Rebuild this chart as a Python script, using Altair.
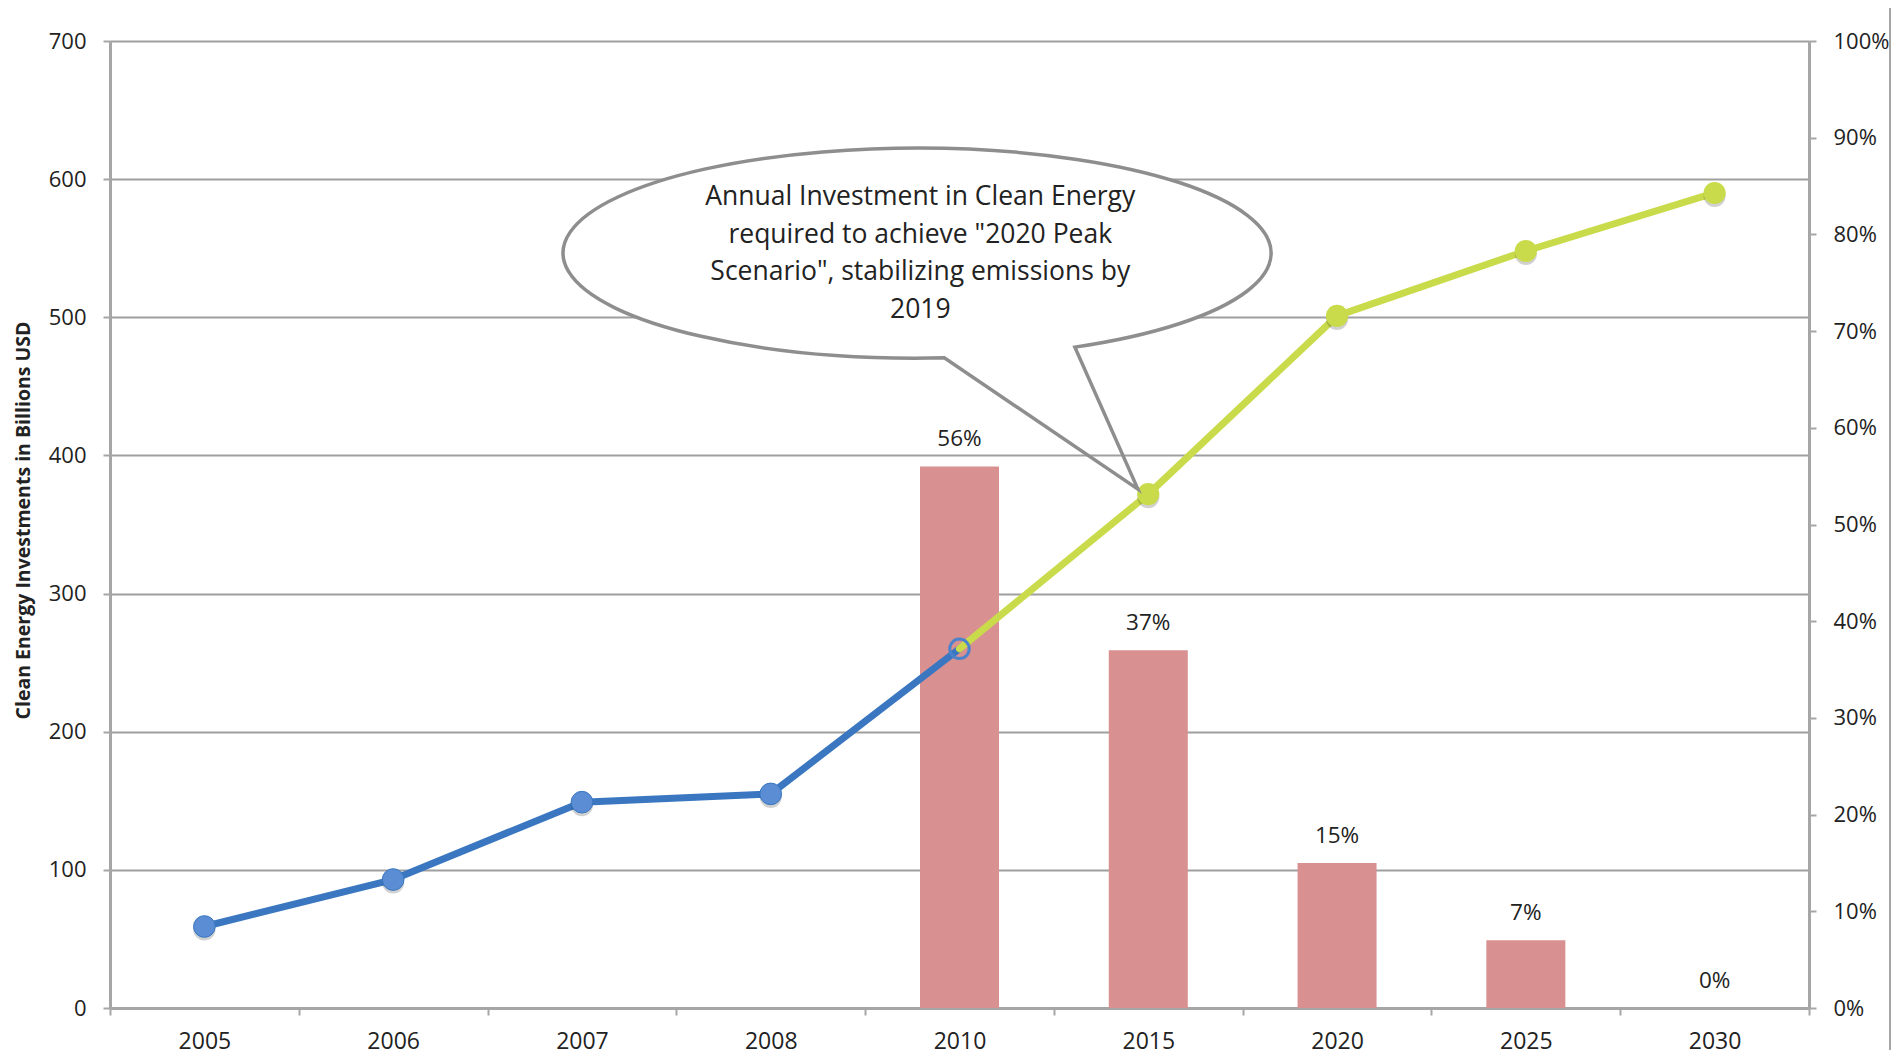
import altair as alt
import pandas as pd

# ---------------- data ----------------
years = ["2005", "2006", "2007", "2008", "2010", "2015", "2020", "2025", "2030"]

actual_years = ["2005", "2006", "2007", "2008", "2010"]
actual_invest = [59, 93, 149, 155, 260]          # billions USD (blue line)

projected_years = ["2010", "2015", "2020", "2025", "2030"]
projected_invest = [260, 372, 501, 548, 590]     # billions USD (green line)

share_years = ["2010", "2015", "2020", "2025", "2030"]
share_pct = [56, 37, 15, 7, 0]                   # percent (bars, right axis)

left_ticks = [0, 100, 200, 300, 400, 500, 600, 700]
right_ticks = [0, 10, 20, 30, 40, 50, 60, 70, 80, 90, 100]

y_title = "Clean Energy Investments in Billions USD"
callout_lines = [
    "Annual Investment in Clean Energy",
    'required to achieve "2020 Peak',
    'Scenario", stabilizing emissions by',
    "2019",
]
callout_year = ["2015"]       # callout points at the 2015 projection
callout_value = [372]

# ---------------- styling ----------------
FONT = "Open Sans"
TXT = "#222222"
AXIS_GREY = "#a6a6a6"
GRID_GREY = "#9f9f9f"
BLUE_LINE = "#3a77c0"
BLUE_DOT = "#5a8dd3"
GREEN = "#c9db4b"
BAR = "#d89091"
CALLOUT = "#8e8e8e"

actual_df = pd.DataFrame({"year": actual_years, "invest": actual_invest})
proj_df = pd.DataFrame({"year": projected_years, "invest": projected_invest})
share_df = pd.DataFrame({"year": share_years, "share": share_pct})
callout_df = pd.DataFrame({"year": callout_year, "invest": callout_value})
frame_df = pd.DataFrame({"k": [0]})

x_enc = alt.X(
    "year:O",
    sort=years,
    scale=alt.Scale(domain=years, paddingInner=0, paddingOuter=0),
    axis=alt.Axis(
        title=None, labelAngle=0, tickBand="extent", grid=False,
        domainColor=AXIS_GREY, domainWidth=3, tickColor=AXIS_GREY, tickWidth=2,
        tickSize=7, labelFont=FONT, labelFontSize=23, labelColor=TXT,
        labelPadding=15,
    ),
)

y_inv = alt.Y(
    "invest:Q",
    scale=alt.Scale(domain=[0, 700], nice=False, zero=True),
    axis=alt.Axis(
        orient="left", values=left_ticks, grid=True, gridColor=GRID_GREY,
        gridWidth=2, domainColor=AXIS_GREY, domainWidth=3, tickColor=AXIS_GREY,
        tickWidth=2, tickSize=7, labelFont=FONT, labelFontSize=22,
        labelColor=TXT, labelPadding=17, title=y_title, titleFont=FONT,
        titleFontSize=19.5, titleFontWeight="bold", titleColor=TXT,
        titleX=-81, titleY=479, titleAngle=270, titleAlign="center",
        titleBaseline="alphabetic",
    ),
)

y_pct = alt.Y(
    "share:Q",
    scale=alt.Scale(domain=[0, 100], nice=False, zero=True),
    axis=alt.Axis(
        orient="right", values=right_ticks, grid=False,
        labelExpr="datum.value + '%'", domainColor=AXIS_GREY, domainWidth=3,
        tickColor=AXIS_GREY, tickWidth=2, tickSize=7, labelFont=FONT,
        labelFontSize=22, labelColor=TXT, labelPadding=17, title=None,
    ),
)

# ---------------- percentage bars (right axis) ----------------
bars = alt.Chart(share_df).mark_bar(size=79, color=BAR).encode(x=x_enc, y=y_pct)
bar_labels = (
    alt.Chart(share_df)
    .transform_calculate(label="datum.share + '%'")
    .mark_text(font=FONT, fontSize=22.5, color=TXT, baseline="middle", dy=-27)
    .encode(x=x_enc, y=y_pct, text="label:N")
)
pct_layer = alt.layer(bars, bar_labels)

# ---------------- investment lines (left axis) ----------------
blue_line = alt.Chart(actual_df).mark_line(
    color=BLUE_LINE, strokeWidth=7, strokeCap="round", strokeJoin="round"
).encode(x=x_enc, y=y_inv)
green_line = alt.Chart(proj_df).mark_line(
    color=GREEN, strokeWidth=7, strokeCap="round", strokeJoin="round"
).encode(x=x_enc, y=y_inv)

blue_dots_df = actual_df[actual_df["year"] != "2010"]
green_dots_df = proj_df[proj_df["year"] != "2010"]
ring_df = actual_df[actual_df["year"] == "2010"]

shadow_blue = alt.Chart(blue_dots_df).mark_circle(
    color="#000000", opacity=0.18, size=490, yOffset=3
).encode(x=x_enc, y=y_inv)
shadow_green = alt.Chart(green_dots_df).mark_circle(
    color="#000000", opacity=0.18, size=490, yOffset=3
).encode(x=x_enc, y=y_inv)
blue_dots = alt.Chart(blue_dots_df).mark_point(
    shape="circle", filled=True, fill=BLUE_DOT, stroke=BLUE_LINE,
    strokeWidth=1, size=470, opacity=1
).encode(x=x_enc, y=y_inv)
green_dots = alt.Chart(green_dots_df).mark_point(
    shape="circle", filled=True, fill=GREEN, size=490, opacity=1
).encode(x=x_enc, y=y_inv)
ring = alt.Chart(ring_df).mark_point(
    shape="circle", filled=False, stroke="#4a82cc", strokeWidth=3,
    size=380, opacity=1
).encode(x=x_enc, y=y_inv)

# ---------------- callout (anchored on the 2015 point) ----------------
ellipse_path = "M-585,-241 A354,105 0 1,1 123,-241 A354,105 0 1,1 -585,-241 Z"
outline_path = "M-204,-136.3 A354,105 0 1,1 -73.4,-147 L-10.4,-5 Z"

callout_fill = alt.Chart(callout_df).mark_point(
    shape=ellipse_path, size=4, filled=True, fill="#ffffff",
    strokeWidth=0, opacity=1
).encode(x=x_enc, y=y_inv)
callout_outline = alt.Chart(callout_df).mark_point(
    shape=outline_path, size=4, filled=False, stroke=CALLOUT,
    strokeWidth=3.5, strokeJoin="miter", opacity=1
).encode(x=x_enc, y=y_inv)
callout_text = alt.Chart(callout_df).mark_text(
    font=FONT, fontSize=26.5, color=TXT, align="center", baseline="middle",
    lineHeight=37.5, dx=-228, dy=-297
).encode(x=x_enc, y=y_inv, text=alt.value(callout_lines))

frame_rule = alt.Chart(frame_df).mark_rule(
    color=AXIS_GREY, strokeWidth=2
).encode(x=alt.value(1780), y=alt.value(-33), y2=alt.value(1009))

inv_layer = alt.layer(
    blue_line, green_line, shadow_blue, shadow_green, blue_dots, green_dots,
    ring, callout_fill, callout_outline, callout_text, frame_rule
)

chart = (
    alt.layer(pct_layer, inv_layer)
    .resolve_scale(y="independent")
    .properties(
        width=1699, height=967,
        autosize=alt.AutoSizeParams(type="none"),
        padding={"left": 102, "top": 33, "right": 82, "bottom": 42},
        background="white",
    )
    .configure_view(stroke=None)
)

chart.save("out.html", embed_options={"renderer": "svg", "actions": False})
